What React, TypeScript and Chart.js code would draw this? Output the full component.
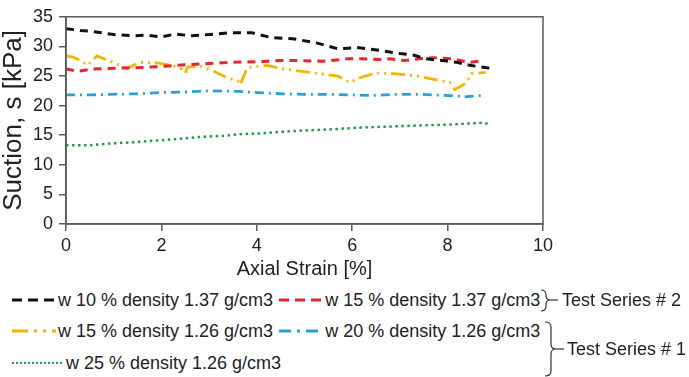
import React, { useEffect, useRef } from "react";
import { Chart, registerables } from "chart.js";
Chart.register(...registerables);

const FONT = "'Liberation Sans', Arial, sans-serif";

const xTicks = [0, 2, 4, 6, 8, 10];
const yTicks = [0, 5, 10, 15, 20, 25, 30, 35];

const blackStrain = [0, 0.3, 0.57, 1.0, 1.4, 1.7, 2.0, 2.3, 2.6, 3.0, 3.4, 3.9, 4.3, 4.75, 5.25, 5.7, 6.1, 6.6, 7.0, 7.3, 7.55, 7.9, 8.2, 8.47, 8.82, 8.9];
const blackSuction = [33.0, 32.7, 32.5, 32.0, 31.8, 31.9, 31.6, 32.1, 31.8, 32.0, 32.3, 32.3, 31.5, 31.3, 30.6, 29.6, 29.8, 29.3, 28.8, 28.5, 27.9, 27.6, 27.3, 26.8, 26.4, 26.3];

const redStrain = [0, 0.25, 0.57, 1.0, 1.5, 2.0, 2.5, 3.0, 3.4, 4.0, 4.5, 4.85, 5.4, 5.9, 6.15, 6.6, 6.8, 7.1, 7.4, 7.7, 8.1, 8.45, 8.75];
const redSuction = [26.2, 25.8, 26.2, 26.3, 26.4, 26.6, 26.9, 27.1, 27.3, 27.4, 27.6, 27.6, 27.5, 27.9, 27.9, 27.8, 27.9, 27.6, 27.9, 28.1, 27.9, 27.3, 27.6];

const yellowStrain = [0, 0.15, 0.3, 0.45, 0.65, 0.9, 1.28, 1.55, 1.9, 2.2, 2.4, 2.5, 2.55, 2.8, 3.1, 3.37, 3.6, 3.65, 3.8, 4.2, 4.5, 4.75, 5.3, 5.7, 5.95, 6.15, 6.5, 6.85, 7.3, 7.85, 8.05, 8.15, 8.37, 8.5, 8.8];
const yellowSuction = [28.4, 28.2, 27.6, 26.8, 28.4, 27.6, 26.3, 27.3, 27.2, 26.8, 26.3, 25.5, 26.5, 26.7, 25.8, 24.7, 24.2, 23.5, 26.4, 26.8, 26.3, 26.0, 25.4, 25.0, 23.9, 24.7, 25.5, 25.4, 25.1, 24.2, 23.9, 22.7, 23.7, 25.4, 25.6];

const blueStrain = [0, 0.5, 0.9, 1.5, 2.0, 2.5, 3.0, 3.6, 4.0, 4.5, 5.0, 5.5, 6.0, 6.4, 6.9, 7.45, 8.05, 8.4, 8.7];
const blueSuction = [21.8, 21.8, 21.9, 22.0, 22.2, 22.3, 22.5, 22.4, 22.2, 22.0, 21.9, 21.9, 21.8, 21.7, 21.9, 21.9, 21.7, 21.5, 21.7];

const greenStrain = [0, 0.5, 0.92, 1.4, 1.9, 2.4, 2.8, 3.3, 3.7, 4.1, 4.55, 5.0, 5.6, 6.2, 6.9, 7.6, 8.1, 8.5, 8.75, 8.85];
const greenSuction = [13.3, 13.3, 13.6, 13.8, 14.1, 14.4, 14.7, 14.9, 15.2, 15.3, 15.6, 15.8, 16.0, 16.3, 16.5, 16.7, 16.8, 17.0, 17.1, 16.9];

const seriesLabels = [
  "w 10 % density 1.37 g/cm3",
  "w 15 % density 1.37 g/cm3",
  "w 15 % density 1.26 g/cm3",
  "w 20 % density 1.26 g/cm3",
  "w 25 % density 1.26 g/cm3",
];
const groupLabels = ["Test Series # 2", "Test Series # 1"];

const BLACK = "#111111";
const RED = "#e5262b";
const YELLOW = "#f4b400";
const BLUE = "#2a9fd8";
const GREEN = "#1e9e48";

const pts = (xs: number[], ys: number[]) => xs.map((x, i) => ({ x, y: ys[i] }));

const W = 689;
const CH = 282;

function Sample({ color, dash, w = 44, sw = 2.5 }: { color: string; dash: string; w?: number; sw?: number }) {
  return (
    <svg width={w} height={18} style={{ display: "block", flex: "none" }}>
      <line x1={0} y1={9} x2={w} y2={9} stroke={color} strokeWidth={sw} strokeDasharray={dash} />
    </svg>
  );
}

export default function App() {
  const ref = useRef<HTMLCanvasElement>(null);
  useEffect(() => {
    const frame = {
      id: "frame",
      afterDatasetsDraw(chart: any) {
        const { ctx, chartArea: a } = chart;
        ctx.save();
        ctx.strokeStyle = "#5a5a5a";
        ctx.lineWidth = 1.5;
        ctx.strokeRect(a.left, a.top, a.right - a.left, a.bottom - a.top);
        ctx.restore();
      },
    };
    const chart = new Chart(ref.current!, {
      type: "line",
      data: {
        datasets: [
          { label: seriesLabels[0], data: pts(blackStrain, blackSuction), borderColor: BLACK, borderWidth: 3, borderDash: [8, 6] },
          { label: seriesLabels[1], data: pts(redStrain, redSuction), borderColor: RED, borderWidth: 3, borderDash: [8, 6] },
          { label: seriesLabels[2], data: pts(yellowStrain, yellowSuction), borderColor: YELLOW, borderWidth: 2.8, borderDash: [14, 5, 2, 5, 2, 5] },
          { label: seriesLabels[3], data: pts(blueStrain, blueSuction), borderColor: BLUE, borderWidth: 2.8, borderDash: [9, 5, 2, 5] },
          { label: seriesLabels[4], data: pts(greenStrain, greenSuction), borderColor: GREEN, borderWidth: 2.5, borderDash: [2.5, 3.5] },
        ] as any,
      },
      options: {
        animation: false,
        responsive: false,
        maintainAspectRatio: false,
        elements: { point: { radius: 0 }, line: { tension: 0, fill: false } },
        layout: { padding: { left: 0, right: W - 543, top: 16, bottom: 0 } },
        plugins: { legend: { display: false }, tooltip: { enabled: false } },
        scales: {
          x: {
            type: "linear",
            min: 0,
            max: 10,
            afterBuildTicks: (s: any) => { s.ticks = xTicks.map((v) => ({ value: v })); },
            afterFit: (s: any) => { s.height = CH - 224; },
            ticks: { color: "#222", font: { family: FONT, size: 18 }, padding: 4 },
            grid: { display: true, drawOnChartArea: false, drawTicks: true, tickLength: 7, color: "#5a5a5a", lineWidth: 1.5 },
            border: { display: true, color: "#5a5a5a", width: 1.5 },
            title: { display: true, text: "Axial Strain [%]", color: "#222", font: { family: FONT, size: 20, lineHeight: 1.2 }, padding: { top: 0, bottom: 1 } },
          },
          y: {
            type: "linear",
            min: 0,
            max: 35,
            afterBuildTicks: (s: any) => { s.ticks = yTicks.map((v) => ({ value: v })); },
            afterFit: (s: any) => { s.width = 66; },
            ticks: { color: "#222", font: { family: FONT, size: 18 }, padding: 6 },
            grid: { display: true, drawOnChartArea: false, drawTicks: true, tickLength: 7, color: "#5a5a5a", lineWidth: 1.5 },
            border: { display: true, color: "#5a5a5a", width: 1.5 },
            title: { display: true, text: "Suction, s [kPa]", color: "#222", font: { family: FONT, size: 26, lineHeight: 1.08 }, padding: { top: 0, bottom: 0 } },
          },
        },
      },
      plugins: [frame],
    } as any);
    return () => chart.destroy();
  }, []);

  const textStyle: React.CSSProperties = { fontFamily: FONT, fontSize: 18, color: "#222", lineHeight: "18px", whiteSpace: "nowrap" };
  const row = (top: number): React.CSSProperties => ({ position: "absolute", left: 12, top, height: 18, display: "flex", alignItems: "center" });

  return (
    <div style={{ position: "absolute", left: 0, top: 0, width: W, height: 377, background: "#fff", overflow: "hidden" }}>
      <canvas ref={ref} width={W} height={CH} style={{ position: "absolute", left: 0, top: 0, width: W, height: CH }} />
      <div style={row(291)}>
        <Sample color={BLACK} dash="10,6" w={44} sw={2.8} />
        <span style={{ ...textStyle, marginLeft: 2 }}>{seriesLabels[0]}</span>
        <span style={{ width: 6 }} />
        <Sample color={RED} dash="10,6" w={44} sw={2.8} />
        <span style={{ ...textStyle, marginLeft: 2 }}>{seriesLabels[1]}</span>
      </div>
      <div style={row(322)}>
        <Sample color={YELLOW} dash="16,6,3,6,3,6" w={44} sw={2.8} />
        <span style={{ ...textStyle, marginLeft: 2 }}>{seriesLabels[2]}</span>
        <span style={{ width: 6 }} />
        <Sample color={BLUE} dash="12,6,3,6,12" w={42} sw={2.8} />
        <span style={{ ...textStyle, marginLeft: 4 }}>{seriesLabels[3]}</span>
      </div>
      <div style={row(354)}>
        <Sample color={GREEN} dash="2,2" w={50} sw={2} />
        <span style={{ ...textStyle, marginLeft: 4 }}>{seriesLabels[4]}</span>
      </div>
      <svg width={W} height={377} style={{ position: "absolute", left: 0, top: 0, pointerEvents: "none" }}>
        <path d="M541,290 Q546,290 546,295 L546,296 Q546,300 551,300 Q546,300 546,304 L546,306 Q546,311 541,311" fill="none" stroke="#333" strokeWidth={1.2} />
        <line x1={551} y1={300} x2={558} y2={300} stroke="#333" strokeWidth={1.2} />
        <path d="M545,322 Q551,322 551,327 L551,344 Q551,349 556,349 Q551,349 551,354 L551,371 Q551,376 545,376" fill="none" stroke="#333" strokeWidth={1.2} />
        <line x1={556} y1={349} x2={564} y2={349} stroke="#333" strokeWidth={1.2} />
      </svg>
      <span style={{ ...textStyle, position: "absolute", left: 562, top: 291 }}>{groupLabels[0]}</span>
      <span style={{ ...textStyle, position: "absolute", left: 567, top: 340 }}>{groupLabels[1]}</span>
    </div>
  );
}
